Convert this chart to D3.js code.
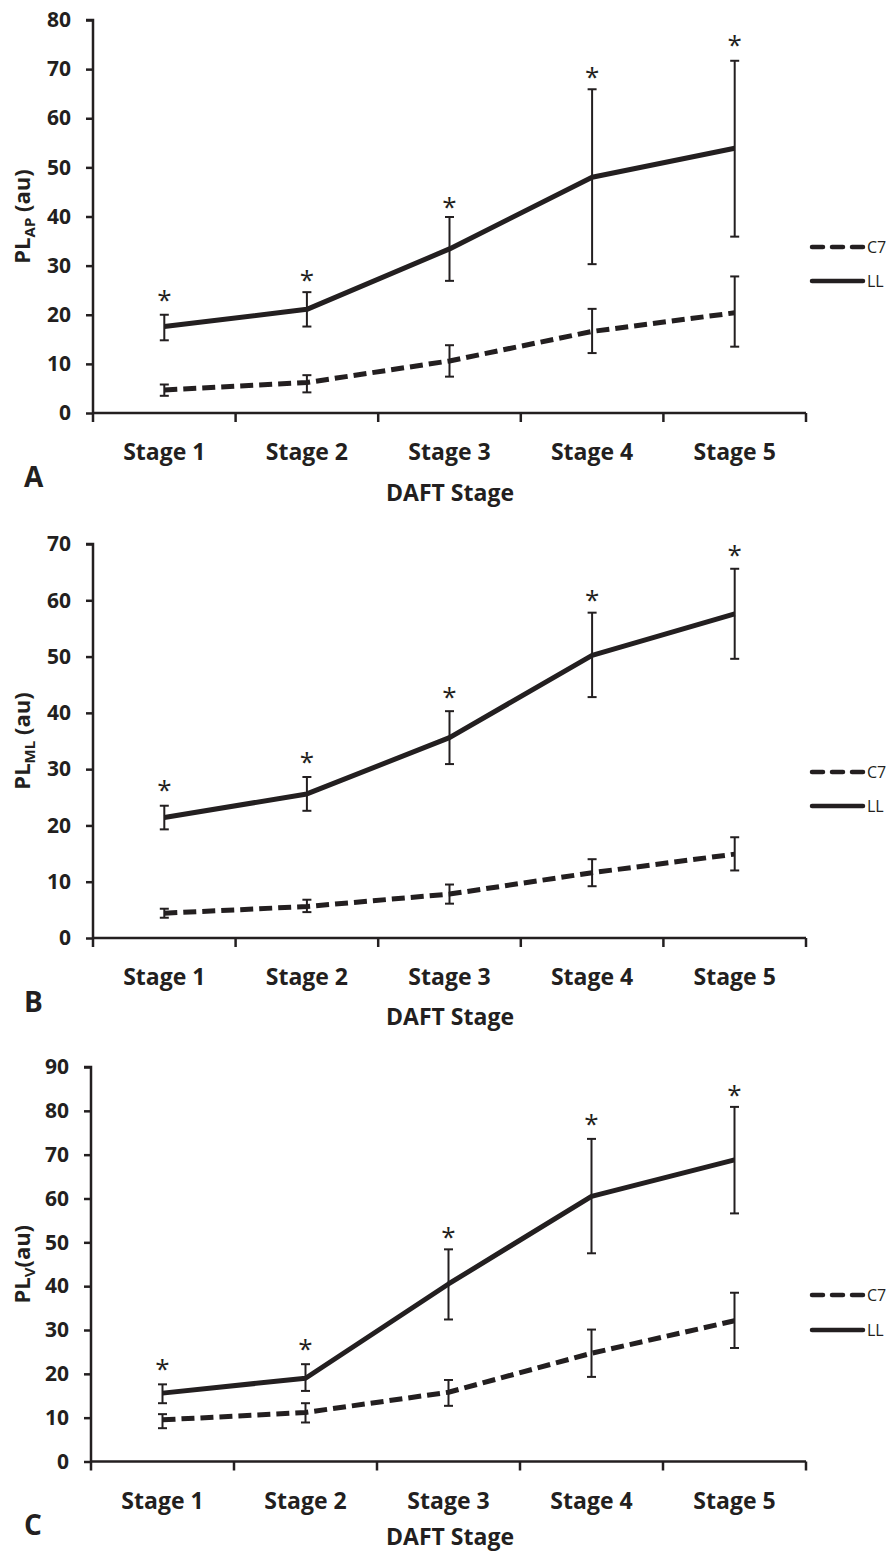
<!DOCTYPE html>
<html>
<head>
<meta charset="utf-8">
<script src="https://cdn.jsdelivr.net/npm/d3@7"></script>
<style>
  html, body { margin: 0; padding: 0; background: #fff; }
  svg text { font-family: "Open Sans", "Noto Sans", sans-serif; fill: #231f20; }
</style>
</head>
<body>
<svg id="chart" width="887" height="1553"></svg>
<script>
// ---------- data ----------
const stages = ["Stage 1", "Stage 2", "Stage 3", "Stage 4", "Stage 5"];
const seriesNames = ["C7", "LL"];

// Panel A: PL_AP
const apTicks = [0, 10, 20, 30, 40, 50, 60, 70, 80];
const apC7 = [4.7, 6.2, 10.6, 16.6, 20.4];
const apC7Lo = [3.5, 4.2, 7.4, 12.2, 13.5];
const apC7Hi = [5.8, 7.7, 13.8, 21.2, 27.8];
const apLL = [17.6, 21.1, 33.4, 48.0, 53.9];
const apLLLo = [14.8, 17.6, 26.9, 30.3, 35.9];
const apLLHi = [20.0, 24.6, 39.9, 65.9, 71.7];
const apStar = [24.4, 28.5, 43.4, 69.9, 76.4];

// Panel B: PL_ML
const mlTicks = [0, 10, 20, 30, 40, 50, 60, 70];
const mlC7 = [4.4, 5.6, 7.8, 11.6, 14.9];
const mlC7Lo = [3.6, 4.6, 6.1, 9.2, 12.0];
const mlC7Hi = [5.2, 6.8, 9.5, 14.0, 17.9];
const mlLL = [21.4, 25.6, 35.6, 50.2, 57.6];
const mlLLLo = [19.3, 22.6, 30.9, 42.8, 49.6];
const mlLLHi = [23.5, 28.6, 40.3, 57.8, 65.6];
const mlStar = [27.5, 32.5, 44.0, 61.3, 69.3];

// Panel C: PL_V
const vTicks = [0, 10, 20, 30, 40, 50, 60, 70, 80, 90];
const vC7 = [9.5, 11.2, 15.8, 24.7, 32.1];
const vC7Lo = [7.6, 8.9, 12.7, 19.3, 25.9];
const vC7Hi = [10.8, 13.3, 18.6, 30.1, 38.5];
const vLL = [15.6, 19.0, 40.5, 60.5, 68.8];
const vLLLo = [13.3, 16.1, 32.4, 47.5, 56.6];
const vLLHi = [17.6, 22.2, 48.4, 73.6, 80.9];
const vStar = [22.8, 27.2, 52.8, 78.6, 85.3];

// ---------- layout ----------
const INK = "#231f20";
const panels = [
  { letter: "A", sub: "AP", after: " (au)", ticks: apTicks,
    c7: apC7, c7lo: apC7Lo, c7hi: apC7Hi, ll: apLL, lllo: apLLLo, llhi: apLLHi, star: apStar,
    x0: 93, top: 20, bottom: 413, legY: [247, 281], titleY: 493 },
  { letter: "B", sub: "ML", after: " (au)", ticks: mlTicks,
    c7: mlC7, c7lo: mlC7Lo, c7hi: mlC7Hi, ll: mlLL, lllo: mlLLLo, llhi: mlLLHi, star: mlStar,
    x0: 93, top: 544, bottom: 938, legY: [772, 806], titleY: 1017 },
  { letter: "C", sub: "V", after: "(au)", ticks: vTicks,
    c7: vC7, c7lo: vC7Lo, c7hi: vC7Hi, ll: vLL, lllo: vLLLo, llhi: vLLHi, star: vStar,
    x0: 91, top: 1067, bottom: 1461.5, legY: [1295, 1330], titleY: 1537 }
];

const svg = d3.select("#chart");

panels.forEach(p => {
  const g = svg.append("g");
  const x = d3.scaleBand().domain(stages).range([p.x0, 806]).paddingInner(0).paddingOuter(0);
  const y = d3.scaleLinear().domain([0, d3.max(p.ticks)]).range([p.bottom, p.top]);
  const cx = s => x(s) + x.bandwidth() / 2;

  // y axis
  const yAxis = d3.axisLeft(y).tickValues(p.ticks).tickSize(7).tickPadding(15);
  const ya = g.append("g").attr("transform", `translate(${p.x0},0)`).call(yAxis);
  ya.select(".domain").attr("stroke", INK).attr("stroke-width", 2.5)
    .attr("d", `M-7,${p.top}H0V${p.bottom + 9}`);
  ya.selectAll(".tick line").attr("stroke", INK).attr("stroke-width", 2.5);
  ya.selectAll(".tick text").attr("font-size", 21).attr("font-weight", 700)
    .attr("fill", INK).attr("font-family", "Open Sans");

  // x axis (boundary ticks)
  const xa = g.append("g");
  xa.append("line").attr("x1", p.x0).attr("x2", 806).attr("y1", p.bottom).attr("y2", p.bottom)
    .attr("stroke", INK).attr("stroke-width", 2.5);
  const bounds = stages.map(s => x(s)).concat([806]).slice(1);
  xa.selectAll("line.b").data(bounds).join("line").attr("class", "b")
    .attr("x1", d => d).attr("x2", d => d).attr("y1", p.bottom).attr("y2", p.bottom + 9)
    .attr("stroke", INK).attr("stroke-width", 2.5);
  xa.selectAll("text.cat").data(stages).join("text").attr("class", "cat")
    .attr("x", d => cx(d)).attr("y", p.bottom + 39).attr("dy", "0.35em")
    .attr("text-anchor", "middle").attr("font-size", 23).attr("font-weight", 700).text(d => d);

  // axis title + panel letter
  g.append("text").attr("x", 450).attr("y", p.titleY).attr("dy", "0.35em")
    .attr("text-anchor", "middle").attr("font-size", 23).attr("font-weight", 700).text("DAFT Stage");
  g.append("text").attr("x", 24).attr("y", p.bottom + 64).attr("dy", "0.35em")
    .attr("font-size", 28).attr("font-weight", 700).text(p.letter);

  const yl = g.append("text")
    .attr("transform", `translate(22,${(p.top + p.bottom) / 2}) rotate(-90)`)
    .attr("text-anchor", "middle").attr("dy", "0.35em")
    .attr("font-size", 22).attr("font-weight", 700);
  yl.append("tspan").text("PL");
  yl.append("tspan").attr("font-size", 15).attr("dy", 5).text(p.sub);
  yl.append("tspan").attr("dy", -5).text(p.after);

  // series
  const line = d3.line().x((d, i) => cx(stages[i])).y(d => y(d));
  const series = [
    { name: "C7", v: p.c7, lo: p.c7lo, hi: p.c7hi, dash: "13,6" },
    { name: "LL", v: p.ll, lo: p.lllo, hi: p.llhi, dash: null }
  ];
  series.forEach(s => {
    // error bars
    const eb = g.append("g");
    s.v.forEach((v, i) => {
      const xc = cx(stages[i]);
      eb.append("line").attr("x1", xc).attr("x2", xc).attr("y1", y(s.lo[i])).attr("y2", y(s.hi[i]))
        .attr("stroke", INK).attr("stroke-width", 2);
      [s.lo[i], s.hi[i]].forEach(e => {
        eb.append("line").attr("x1", xc - 4.5).attr("x2", xc + 4.5).attr("y1", y(e)).attr("y2", y(e))
          .attr("stroke", INK).attr("stroke-width", 2);
      });
    });
    g.append("path").datum(s.v).attr("d", line).attr("fill", "none")
      .attr("stroke", INK).attr("stroke-width", 5)
      .attr("stroke-dasharray", s.dash).attr("stroke-linejoin", "round");
  });

  // significance stars
  g.selectAll("text.star").data(p.star).join("text").attr("class", "star")
    .attr("x", (d, i) => cx(stages[i])).attr("y", d => y(d)).attr("dy", "0.62em")
    .attr("text-anchor", "middle").attr("font-size", 26).attr("font-weight", 400).text("*");

  // legend
  seriesNames.forEach((n, i) => {
    const ly = p.legY[i];
    g.append("line").attr("x1", 812).attr("x2", 863).attr("y1", ly).attr("y2", ly)
      .attr("stroke", INK).attr("stroke-width", 4.5).attr("stroke-linecap", "round")
      .attr("stroke-dasharray", i === 0 ? "11,9" : null);
    g.append("text").attr("x", 867).attr("y", ly).attr("dy", "0.35em")
      .attr("font-size", 16).attr("font-weight", 400).text(n);
  });
});
</script>
</body>
</html>
